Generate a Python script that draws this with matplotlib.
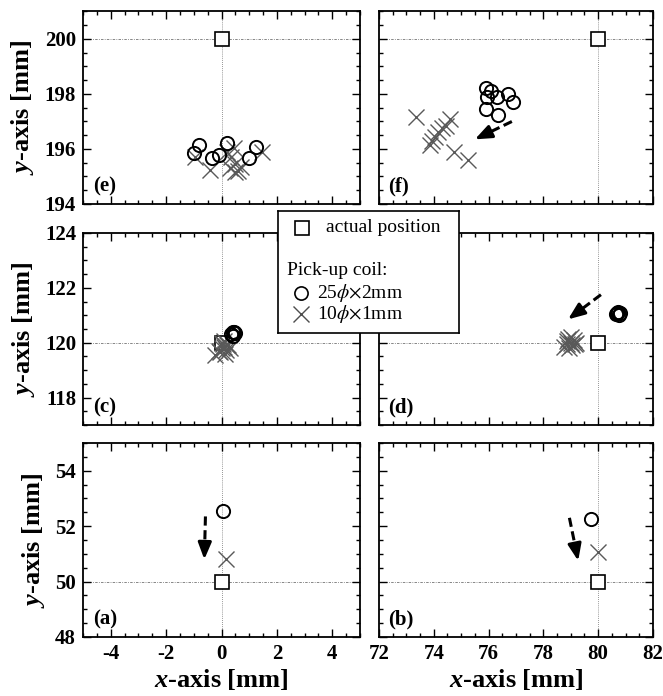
import matplotlib.pyplot as plt
from matplotlib.ticker import MultipleLocator

plt.rcParams['font.family'] = ['Liberation Serif', 'DejaVu Serif']
plt.rcParams['mathtext.fontset'] = 'custom'
plt.rcParams['mathtext.rm'] = 'Liberation Serif:bold'
plt.rcParams['mathtext.it'] = 'Liberation Serif:bold:italic'
plt.rcParams['axes.unicode_minus'] = False

# actual positions of the magnet
actual_a = (0, 50)
actual_b = (80, 50)
actual_c = (0, 120)
actual_d = (80, 120)
actual_e = (0, 200)
actual_f = (80, 200)

# pick-up coil 25phi x 2mm (circles)
circ_a_x = [0.05]
circ_a_y = [52.55]
circ_b_x = [79.75]
circ_b_y = [52.27]
circ_c_x = [0.35, 0.45, 0.5, 0.4, 0.42]
circ_c_y = [120.3, 120.4, 120.35, 120.25, 120.38]
circ_d_x = [80.65, 80.7, 80.75, 80.8, 80.72]
circ_d_y = [121.05, 121.1, 121.0, 121.08, 121.12]
circ_e_x = [-1.0, -0.82, -0.34, -0.1, 0.2, 0.99, 1.23]
circ_e_y = [195.84, 196.15, 195.66, 195.78, 196.2, 195.66, 196.08]
circ_f_x = [75.9, 75.95, 76.3, 76.7, 76.9, 75.9, 76.35, 76.1]
circ_f_y = [198.2, 197.9, 197.9, 198.0, 197.7, 197.45, 197.25, 198.1]

# pick-up coil 10phi x 1mm (crosses)
cross_a_x = [0.15]
cross_a_y = [50.8]
cross_b_x = [80.0]
cross_b_y = [51.05]
cross_c_x = [-0.25, -0.1, 0.0, 0.1, 0.2, 0.05, 0.15, 0.25, 0.1, -0.05, 0.3, 0.0, 0.12]
cross_c_y = [119.55, 119.7, 119.8, 119.85, 119.9, 119.95, 119.75, 119.9, 120.05, 119.65, 119.8, 120.0, 119.6]
cross_d_x = [78.75, 78.85, 78.9, 79.0, 79.05, 79.1, 79.2, 78.95, 79.0, 79.15, 78.85]
cross_d_y = [119.85, 120.05, 120.15, 120.0, 119.9, 120.1, 120.0, 119.8, 120.2, 119.95, 119.95]
cross_e_x = [-0.95, -0.4, 0.2, 0.45, 0.35, 0.5, 0.6, 0.7, 0.3, 0.5, 1.45]
cross_e_y = [195.7, 195.24, 195.9, 196.05, 195.7, 195.45, 195.2, 195.35, 195.3, 195.17, 195.9]
cross_f_x = [73.35, 73.85, 73.95, 74.05, 74.15, 74.3, 74.45, 74.6, 74.75, 75.25]
cross_f_y = [197.15, 196.15, 196.3, 196.45, 196.6, 196.75, 196.85, 197.1, 195.9, 195.6]

# dashed arrows (start, end)
arrow_a = ((-0.58, 52.35), (-0.62, 50.8))
arrow_b = ((78.95, 52.3), (79.27, 50.75))
arrow_d = ((80.1, 121.75), (78.9, 120.85))
arrow_f = ((76.85, 197.0), (75.5, 196.35))

xlim_left = (-5, 5)
xlim_right = (72, 82)
xticks_left = [-4, -2, 0, 2, 4]
xticks_right = [72, 74, 76, 78, 80, 82]

panels = [
    # label, pos, xlim, ylim, yticks, actual, circles, crosses, arrow
    ('(e)', [0.1252, 0.7069, 0.4178, 0.2766], xlim_left, (194, 201), [194, 196, 198, 200],
     actual_e, (circ_e_x, circ_e_y), (cross_e_x, cross_e_y), None),
    ('(f)', [0.5716, 0.7069, 0.4133, 0.2766], xlim_right, (194, 201), [194, 196, 198, 200],
     actual_f, (circ_f_x, circ_f_y), (cross_f_x, cross_f_y), arrow_f),
    ('(c)', [0.1252, 0.3894, 0.4178, 0.2759], xlim_left, (117, 124), [118, 120, 122, 124],
     actual_c, (circ_c_x, circ_c_y), (cross_c_x, cross_c_y), None),
    ('(d)', [0.5716, 0.3894, 0.4133, 0.2759], xlim_right, (117, 124), [118, 120, 122, 124],
     actual_d, (circ_d_x, circ_d_y), (cross_d_x, cross_d_y), arrow_d),
    ('(a)', [0.1252, 0.0848, 0.4178, 0.2787], xlim_left, (48, 55), [48, 50, 52, 54],
     actual_a, (circ_a_x, circ_a_y), (cross_a_x, cross_a_y), arrow_a),
    ('(b)', [0.5716, 0.0848, 0.4133, 0.2787], xlim_right, (48, 55), [48, 50, 52, 54],
     actual_b, (circ_b_x, circ_b_y), (cross_b_x, cross_b_y), arrow_b),
]

fig = plt.figure(figsize=(6.63, 6.96), dpi=100)

for i, (lab, pos, xl, yl, yt, act, circ, cross, arr) in enumerate(panels):
    ax = fig.add_axes(pos)
    left = (i % 2 == 0)
    bottom = (i >= 4)
    ax.set_xlim(xl)
    ax.set_ylim(yl)
    ax.set_xticks(xticks_left if left else xticks_right)
    ax.set_yticks(yt)
    ax.xaxis.set_minor_locator(MultipleLocator(0.5))
    ax.yaxis.set_minor_locator(MultipleLocator(0.5))
    ax.tick_params(which='both', direction='in', top=True, right=True, width=1.0)
    ax.tick_params(which='major', length=6)
    ax.tick_params(which='minor', length=3)
    ax.tick_params(labelbottom=bottom, labelleft=left, labelsize=15, pad=5)
    for t in ax.get_xticklabels() + ax.get_yticklabels():
        t.set_fontweight('bold')
    for s in ax.spines.values():
        s.set_linewidth(1.3)

    # dotted reference lines through the actual position
    ax.axvline(act[0], color='0.45', lw=0.6, ls=(0, (1, 1.5)), zorder=1)
    ax.axhline(act[1], color='0.45', lw=0.6, ls=(0, (3, 1.5, 1, 1.5)), zorder=1)

    ax.plot([act[0]], [act[1]], ls='none', marker='s', ms=9.5, mew=1.2, mfc='white', mec='black', zorder=2)
    ax.plot(cross[0], cross[1], ls='none', marker='x', ms=12, mew=1.0, color='0.35', zorder=3)
    ax.plot(circ[0], circ[1], ls='none', marker='o', ms=9.5, mew=1.4, mfc='none', mec='black', zorder=4)

    if arr is not None:
        (x0, y0), (x1, y1) = arr
        xm = x0 + 0.72 * (x1 - x0)
        ym = y0 + 0.72 * (y1 - y0)
        ax.plot([x0, xm], [y0, ym], color='black', lw=2.2, ls=(0, (3, 1.5)), zorder=5)
        ax.annotate('', xy=(x1, y1), xytext=(xm, ym),
                    arrowprops=dict(arrowstyle='-|>,head_length=1.0,head_width=0.4',
                                    color='black', lw=2.2, shrinkA=0, shrinkB=0), zorder=5)

    ax.text(0.035, 0.04, lab, transform=ax.transAxes, fontsize=15, fontweight='bold',
            ha='left', va='bottom')

    if left:
        ax.set_ylabel(r'$\it{y}$-axis [mm]', fontsize=19, fontweight='bold', labelpad=6)
    if bottom:
        ax.set_xlabel(r'$\it{x}$-axis [mm]', fontsize=19, fontweight='bold', labelpad=2)

# legend box drawn on top of the panels
lg = fig.add_axes([278 / 663, 1 - 333 / 696, 181 / 663, 122 / 696], zorder=10)
lg.set_xlim(0, 1)
lg.set_ylim(0, 1)
lg.set_xticks([])
lg.set_yticks([])
lg.set_facecolor('white')
for s in lg.spines.values():
    s.set_linewidth(1.2)
lg.plot([0.133], [0.861], marker='s', ms=9.5, mew=1.2, mfc='white', mec='black')
lg.plot([0.127], [0.328], marker='o', ms=9.5, mew=1.2, mfc='none', mec='black')
lg.plot([0.127], [0.156], marker='x', ms=12, mew=1.0, color='0.3')
lg.text(0.265, 0.861, 'actual position', fontsize=14, va='center', ha='left')
lg.text(0.05, 0.516, 'Pick-up coil:', fontsize=14, va='center', ha='left')
lg.text(0.215, 0.328, r'25$\phi$$\times$2mm', fontsize=14, va='center', ha='left',
        math_fontfamily='stix')
lg.text(0.215, 0.156, r'10$\phi$$\times$1mm', fontsize=14, va='center', ha='left',
        math_fontfamily='stix')

fig.savefig('out.png', dpi=100)
